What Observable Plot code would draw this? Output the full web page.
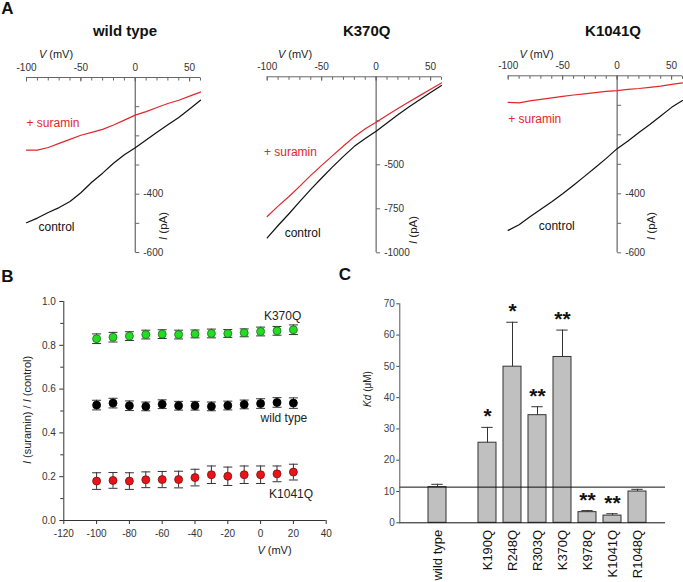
<!DOCTYPE html>
<html>
<head>
<meta charset="utf-8">
<script src="https://cdn.jsdelivr.net/npm/d3@7"></script>
<script src="https://cdn.jsdelivr.net/npm/@observablehq/plot@0.6"></script>
<style>
  body { margin: 0; background: #fff; }
  #fig { position: relative; width: 683px; height: 582px; overflow: hidden;
         font-family: Arial, "Liberation Sans", sans-serif; color: #111; background: #fff; }
  #fig svg { position: absolute; left: 0; top: 0; }
  .lbl { position: absolute; white-space: nowrap; line-height: 1; transform: translate(-50%, -50%); }
  .rot { transform: translate(-50%, -50%) rotate(-90deg); }
</style>
</head>
<body>
<div id="fig"></div>
<script>
// ---------------- Panel A: I-V traces ----------------
const ivVoltage = [-100, -90, -80, -70, -60, -50, -40, -30, -20, -10, 0, 10, 20, 30, 40, 50, 60];
const wtControl = [-498, -482, -463, -446, -425, -395, -359, -328, -294, -265, -241, -214, -188, -162, -137, -108, -78];
const wtSuramin = [-249, -249, -240, -226, -212, -198, -188, -178, -163, -146, -129, -117, -103, -89, -78, -64, -50];
const k370qControl = [-915, -845, -778, -708, -640, -575, -512, -452, -395, -350, -309, -262, -216, -172, -130, -89, -50];
const k370qSuramin = [-794, -735, -680, -621, -560, -503, -448, -393, -340, -295, -258, -218, -180, -143, -107, -71, -35];
const k1041qControl = [-524, -505, -478, -452, -427, -400, -371, -341, -311, -280, -247, -221, -192, -165, -136, -107, -84];
const k1041qSuramin = [-90, -92, -85, -80, -75, -70, -65, -61, -57, -53, -50, -46, -43, -39, -35, -29, -24];
const ivXTickLabels = [-100, -50, 0, 50];
const wtYTicks = [-100, -200, -300, -400, -500, -600];
const wtYTickLabels = [-400, -600];
const k370qYTicks = [-250, -500, -750, -1000];
const k370qYTickLabels = [-500, -750, -1000];
const k1041qYTicks = [-100, -200, -300, -400, -500, -600];
const k1041qYTickLabels = [-400, -600];

// ---------------- Panel B: ratio vs voltage ----------------
const bVoltage = [-100, -90, -80, -70, -60, -50, -40, -30, -20, -10, 0, 10, 20];
const k370qRatio = [0.830, 0.837, 0.842, 0.849, 0.851, 0.849, 0.852, 0.854, 0.854, 0.857, 0.863, 0.866, 0.871];
const k370qErr   = [0.022, 0.022, 0.020, 0.020, 0.020, 0.020, 0.018, 0.020, 0.018, 0.018, 0.020, 0.020, 0.022];
const wtRatio    = [0.527, 0.536, 0.524, 0.521, 0.531, 0.524, 0.524, 0.521, 0.525, 0.530, 0.534, 0.539, 0.536];
const wtErr      = [0.022, 0.022, 0.022, 0.020, 0.020, 0.020, 0.020, 0.020, 0.020, 0.020, 0.022, 0.022, 0.024];
const k1041qRatio = [0.180, 0.183, 0.180, 0.186, 0.187, 0.187, 0.196, 0.209, 0.202, 0.209, 0.209, 0.213, 0.221];
const k1041qErr   = [0.038, 0.036, 0.038, 0.036, 0.037, 0.038, 0.038, 0.040, 0.042, 0.040, 0.040, 0.036, 0.036];
const bXTicks = [-120, -100, -80, -60, -40, -20, 0, 20, 40];
const bYTicks = [0, 0.2, 0.4, 0.6, 0.8, 1.0];
const bYMinorTicks = [0.1, 0.3, 0.5, 0.7, 0.9];

// ---------------- Panel C: Kd bars ----------------
const mutants = ["wild type", "K190Q", "R248Q", "R303Q", "K370Q", "K978Q", "K1041Q", "R1048Q"];
const kd      = [11.4, 25.6, 49.9, 34.4, 53.0, 3.4, 2.3, 10.0];
const kdErr   = [0.9, 4.9, 14.2, 2.7, 8.6, 0.5, 0.6, 0.7];
const signif  = ["", "*", "*", "**", "**", "**", "**", ""];
const cYTicks = [0, 10, 20, 30, 40, 50, 60, 70];
const wildTypeKd = 11.4;

// ---------------- helpers ----------------
const FONT = "Arial, 'Liberation Sans', sans-serif";
const W = 683, H = 582;
const AXIS = "#666";
const RED = "#e3262a";
const svgStyle = {fontFamily: FONT, background: "transparent", overflow: "visible"};
const tickDown = (len) => ({draw(ctx) { ctx.moveTo(0, 0); ctx.lineTo(0, len); }});
const tickRight = (len) => ({draw(ctx) { ctx.moveTo(0, 0); ctx.lineTo(len, 0); }});
const capH = (w) => ({draw(ctx) { ctx.moveTo(-w / 2, 0); ctx.lineTo(w / 2, 0); }});

const fig = document.getElementById("fig");
function addLabel(html, cx, cy, opts = {}) {
  const d = document.createElement("div");
  d.className = "lbl" + (opts.rot ? " rot" : "");
  d.innerHTML = html;
  d.style.left = cx + "px";
  d.style.top = cy + "px";
  d.style.fontSize = (opts.size || 12) + "px";
  if (opts.bold) d.style.fontWeight = "bold";
  d.style.color = opts.color || "#111";
  fig.appendChild(d);
}

function ivPanel({x0, x1, yTop, yBottom, yMin, yTicks, yTickLabels, control, suramin, suraminLabel, controlLabel}) {
  return Plot.plot({
    width: W, height: H,
    marginLeft: x0, marginRight: W - x1, marginTop: yTop, marginBottom: H - yBottom,
    x: {domain: [-100, 60], axis: null},
    y: {domain: [yMin, 0], axis: null},
    style: svgStyle,
    marks: [
      Plot.ruleY([0], {stroke: AXIS, strokeWidth: 1}),
      Plot.ruleX([0], {stroke: AXIS, strokeWidth: 1.2}),
      Plot.dot(d3.range(-100, 61, 10), {x: d => d, y: 0, symbol: tickDown(3), fill: "none", stroke: AXIS, strokeWidth: 1}),
      Plot.dot(ivXTickLabels, {x: d => d, y: 0, symbol: tickDown(4), fill: "none", stroke: AXIS, strokeWidth: 1}),
      Plot.dot(yTicks, {x: 0, y: d => d, symbol: tickRight(4), fill: "none", stroke: AXIS, strokeWidth: 1}),
      Plot.text(ivXTickLabels, {x: d => d, y: 0, text: d => String(d), dy: -7, lineAnchor: "bottom", fontSize: 10, fill: "#333"}),
      Plot.text(yTickLabels, {x: 0, y: d => d, text: d => String(d), dx: 8, textAnchor: "start", lineAnchor: "middle", fontSize: 10, fill: "#333"}),
      Plot.line(ivVoltage, {x: d => d, y: (d, i) => control[i], stroke: "#111", strokeWidth: 1.2}),
      Plot.line(ivVoltage, {x: d => d, y: (d, i) => suramin[i], stroke: RED, strokeWidth: 1.2}),
      Plot.text([suraminLabel], {x: "v", y: "i", text: () => "+ suramin", textAnchor: "start", lineAnchor: "middle", fontSize: 12, fill: RED}),
      Plot.text([controlLabel], {x: "v", y: "i", text: () => "control", textAnchor: "start", lineAnchor: "middle", fontSize: 12, fill: "#111"})
    ]
  });
}

// Panel A plots
fig.appendChild(ivPanel({x0: 26, x1: 200, yTop: 77, yBottom: 252, yMin: -600,
  yTicks: wtYTicks, yTickLabels: wtYTickLabels, control: wtControl, suramin: wtSuramin,
  suraminLabel: {v: -100, i: -157}, controlLabel: {v: -89, i: -514}}));
fig.appendChild(ivPanel({x0: 266.7, x1: 441, yTop: 76.3, yBottom: 252.3, yMin: -1000,
  yTicks: k370qYTicks, yTickLabels: k370qYTickLabels, control: k370qControl, suramin: k370qSuramin,
  suraminLabel: {v: -103, i: -430}, controlLabel: {v: -84, i: -890}}));
fig.appendChild(ivPanel({x0: 507.7, x1: 682, yTop: 75.3, yBottom: 252.3, yMin: -600,
  yTicks: k1041qYTicks, yTickLabels: k1041qYTickLabels, control: k1041qControl, suramin: k1041qSuramin,
  suraminLabel: {v: -100, i: -148}, controlLabel: {v: -72, i: -508}}));

// Panel B
function errMarks(ratio, err, fill, stroke) {
  return [
    Plot.ruleX(bVoltage, {x: d => d, y1: (d, i) => ratio[i] - err[i], y2: (d, i) => ratio[i] + err[i], stroke: "#333", strokeWidth: 1}),
    Plot.dot(bVoltage, {x: d => d, y: (d, i) => ratio[i] - err[i], symbol: capH(9), fill: "none", stroke: "#333", strokeWidth: 1}),
    Plot.dot(bVoltage, {x: d => d, y: (d, i) => ratio[i] + err[i], symbol: capH(9), fill: "none", stroke: "#333", strokeWidth: 1}),
    Plot.dot(bVoltage, {x: d => d, y: (d, i) => ratio[i], r: 4, fill, stroke, strokeWidth: 0.8})
  ];
}
fig.appendChild(Plot.plot({
  width: W, height: H,
  marginLeft: 63.3, marginRight: W - 325.7, marginTop: 301, marginBottom: H - 520,
  x: {domain: [-120, 40]},
  y: {domain: [0, 1]},
  style: svgStyle,
  marks: [
    Plot.axisX({ticks: bXTicks, tickFormat: d => String(d), tickSize: 4, tickPadding: 5, fontSize: 10, color: "#333"}),
    Plot.axisY({ticks: bYTicks, tickFormat: d => d.toFixed(1), tickSize: 4, tickPadding: 4, fontSize: 10, color: "#333"}),
    Plot.axisY({ticks: bYMinorTicks, tickFormat: () => "", tickSize: 3, color: "#333"}),
    Plot.ruleY([0], {stroke: "#333"}),
    Plot.ruleX([-120], {stroke: "#333"}),
    ...errMarks(k370qRatio, k370qErr, "#22dd22", "#1d6b1d"),
    ...errMarks(wtRatio, wtErr, "#000", "#000"),
    ...errMarks(k1041qRatio, k1041qErr, "#e8141a", "#7a1010"),
    Plot.text(["K370Q"], {x: 13.4, y: 0.935, text: d => d, fontSize: 12, fill: "#222", lineAnchor: "middle"}),
    Plot.text(["wild type"], {x: 14.2, y: 0.467, text: d => d, fontSize: 12, fill: "#222", lineAnchor: "middle"}),
    Plot.text(["K1041Q"], {x: 18.6, y: 0.122, text: d => d, fontSize: 12, fill: "#222", lineAnchor: "middle"})
  ]
}));

// Panel C
const cDomain = [mutants[0], " ", ...mutants.slice(1)];
fig.appendChild(Plot.plot({
  width: W, height: H,
  marginLeft: 399.3, marginRight: W - 665, marginTop: 303.3, marginBottom: H - 522.3,
  x: {type: "band", domain: cDomain, range: [417.4, 655.8], padding: 0.29},
  y: {domain: [0, 70]},
  style: svgStyle,
  marks: [
    Plot.axisX({tickRotate: -90, tickSize: 0, tickPadding: 7, fontSize: 13, color: "#111"}),
    Plot.axisY({ticks: cYTicks, tickFormat: d => String(d), tickSize: 3, tickPadding: 2, fontSize: 10, color: "#444"}),
    Plot.barY(mutants, {x: d => d, y: (d, i) => kd[i], fill: "#c0c0c0", stroke: "#333", strokeWidth: 1}),
    Plot.ruleX(mutants, {x: d => d, y1: (d, i) => kd[i], y2: (d, i) => kd[i] + kdErr[i], stroke: "#333", strokeWidth: 1}),
    Plot.tickY(mutants, {x: d => d, y: (d, i) => kd[i] + kdErr[i], inset: 3.3, stroke: "#333", strokeWidth: 1}),
    Plot.text(mutants, {x: d => d, y: (d, i) => kd[i] + kdErr[i], text: (d, i) => signif[i], lineAnchor: "bottom", dy: -4, fontSize: 21, fontWeight: "bold", fill: "#111"}),
    Plot.ruleY([0], {stroke: "#111"}),
    Plot.ruleY([wildTypeKd], {stroke: "#111"}),
    Plot.frame({anchor: "left", stroke: "#555"})
  ]
}));

// HTML text: panel letters, titles, axis titles
addLabel("A", 7.5, 8, {size: 17, bold: true});
addLabel("B", 7.5, 276, {size: 17, bold: true});
addLabel("C", 345, 274, {size: 17, bold: true});
addLabel("wild type", 125, 30, {size: 15, bold: true});
addLabel("K370Q", 366.7, 30, {size: 15, bold: true});
addLabel("K1041Q", 613, 30, {size: 15, bold: true});
addLabel("<i>V</i> (mV)", 56, 54, {size: 11, color: "#222"});
addLabel("<i>V</i> (mV)", 295, 54, {size: 11, color: "#222"});
addLabel("<i>V</i> (mV)", 536.5, 54, {size: 11, color: "#222"});
addLabel("<i>I</i> (pA)", 164, 226, {size: 11.5, rot: true, color: "#222"});
addLabel("<i>I</i> (pA)", 414, 230, {size: 11.5, rot: true, color: "#222"});
addLabel("<i>I</i> (pA)", 651.7, 226, {size: 11.5, rot: true, color: "#222"});
addLabel("<i>I</i> (suramin) / <i>I</i> (control)", 27, 410, {size: 11, rot: true, color: "#222"});
addLabel("<i>V</i> (mV)", 274.5, 550, {size: 11, color: "#222"});
addLabel("<i>Kd</i> (&mu;M)", 368, 389, {size: 10, rot: true, color: "#222"});
</script>
</body>
</html>
